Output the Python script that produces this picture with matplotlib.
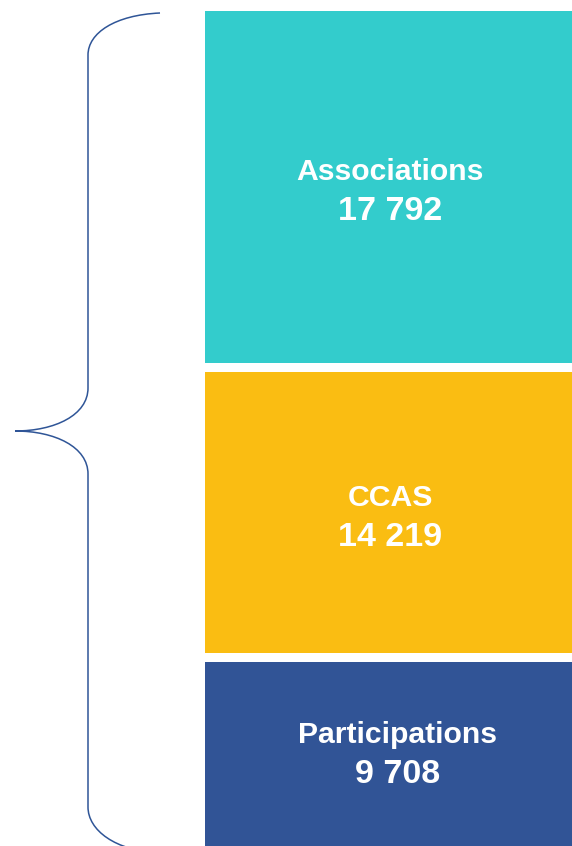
import matplotlib
matplotlib.use("Agg")
import matplotlib.pyplot as plt
from matplotlib.path import Path
from matplotlib.patches import PathPatch

# Data
categories = ["Associations", "CCAS", "Participations"]
values = [17792, 14219, 9708]
value_labels = ["17 792", "14 219", "9 708"]
colors = ["#33CCCC", "#FABD12", "#315496"]

W, H = 572, 846
fig = plt.figure(figsize=(W / 100, H / 100), dpi=100)

# Main axes: x in pixels, y in data units (stacked from top)
ax = fig.add_axes([0, 0, 1, 1])
scale = 0.0198          # px per unit
top_px = 11
gap = 430               # data units between segments
ax.set_xlim(0, W)
ax.set_ylim((H - top_px) / scale, -top_px / scale)
ax.axis("off")

# Overlay in pixel coordinates for brace and labels
bx = fig.add_axes([0, 0, 1, 1])
bx.set_xlim(0, W)
bx.set_ylim(H, 0)
bx.axis("off")
bx.patch.set_alpha(0)

def to_px(y):
    return top_px + y * scale

bar_left, bar_width = 205, 370
text_dx = [0, 0, 8]
text_dy = [2, 2.5, -1.5]
font = ["Liberation Sans", "DejaVu Sans"]
bottom = 0
for i, (cat, v, lab, c) in enumerate(zip(categories, values, value_labels, colors)):
    ax.bar(bar_left, v, bottom=bottom, width=bar_width, align="edge",
           color=c, edgecolor="none")
    top_p = to_px(bottom)
    bot_p = min(to_px(bottom + v), H)
    yc = (top_p + bot_p) / 2 + text_dy[i]
    xc = bar_left + bar_width / 2 + text_dx[i]
    bx.text(xc, yc - 9.5, cat, ha="center", va="baseline", color="white",
            fontsize=21.7, fontweight="bold", family=font)
    bx.text(xc, yc + 31, lab, ha="center", va="baseline", color="white",
            fontsize=24.5, fontweight="bold", family=font)
    bottom += v + gap

xv, xt = 88, 15
y0, y1 = 13, 853
ym = 431
verts = [
    (160, y0),
    (115, y0 + 2), (88, y0 + 20), (xv, 55),
    (xv, 388),
    (xv, 415), (55, 431), (xt, ym),
    (55, 431), (xv, 447), (xv, 474),
    (xv, 807),
    (xv, 830), (115, y1 - 2), (160, y1),
]
codes = [Path.MOVETO,
         Path.CURVE4, Path.CURVE4, Path.CURVE4,
         Path.LINETO,
         Path.CURVE4, Path.CURVE4, Path.CURVE4,
         Path.CURVE4, Path.CURVE4, Path.CURVE4,
         Path.LINETO,
         Path.CURVE4, Path.CURVE4, Path.CURVE4]
bx.add_patch(PathPatch(Path(verts, codes), facecolor="none",
                       edgecolor="#2F5597", linewidth=1.1))

fig.savefig("out.png", dpi=100)
